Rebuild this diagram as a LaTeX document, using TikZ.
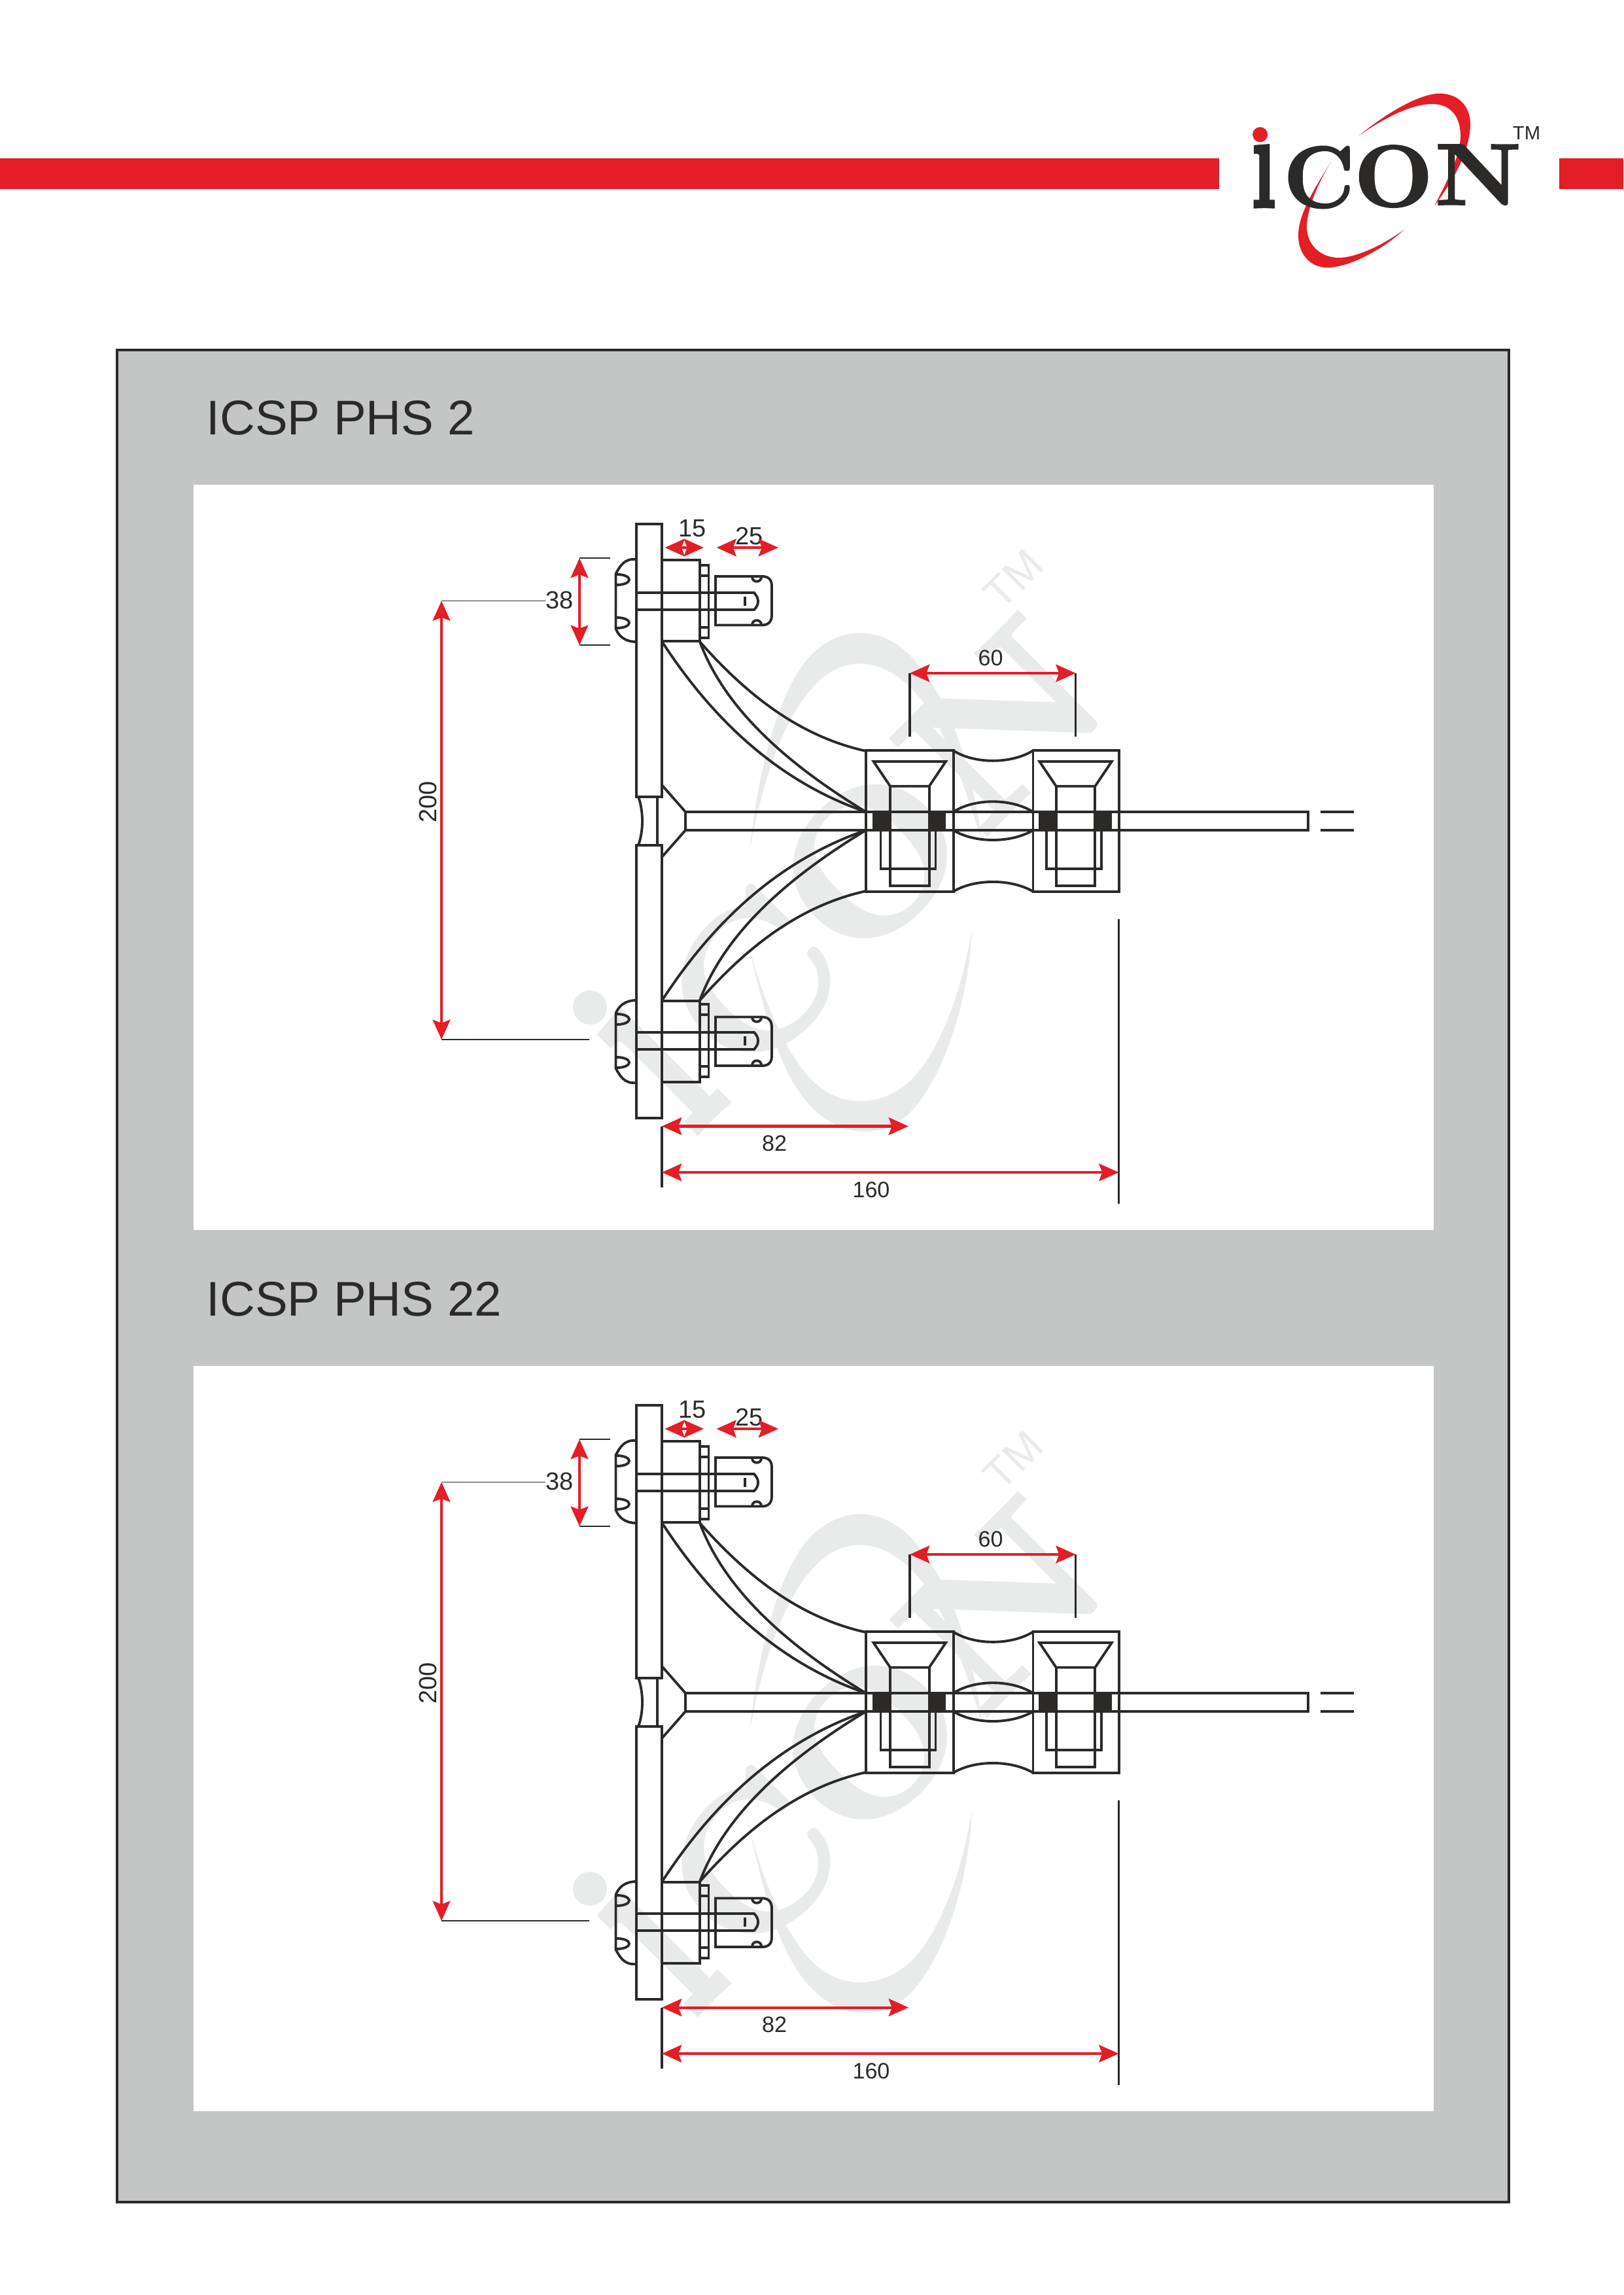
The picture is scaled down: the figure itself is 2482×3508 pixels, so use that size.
\documentclass[tikz,border=0pt]{standalone}
\usepackage{fontspec}
\usetikzlibrary{arrows.meta}
\setsansfont{Liberation Sans}
\newfontface\logoface{lmroman10-bold}[Extension=.otf,FakeBold=1.6]
\definecolor{icred}{HTML}{E31E26}
\definecolor{icdark}{HTML}{2B2A29}
\definecolor{icgray}{HTML}{C4C6C6}
\definecolor{icwater}{HTML}{E9EAEA}
\tikzset{
  part/.style={draw=icdark,line width=1.1pt,line join=miter},
  thinline/.style={draw=icdark,line width=.5pt},
  extline/.style={draw=icdark,line width=.95pt},
  dimarrow/.style={draw=icred,line width=1.15pt,{Stealth[length=8.6pt,width=7.6pt,inset=1.4pt]}-{Stealth[length=8.6pt,width=7.6pt,inset=1.4pt]}},
  dimlabel/.style={text=icdark,inner sep=0pt,font=\sffamily\fontsize{10.8pt}{12pt}\selectfont},
  dimlabelsmall/.style={text=icdark,inner sep=0pt,font=\sffamily\fontsize{9.7pt}{11pt}\selectfont},
  title/.style={text=icdark,inner sep=0pt,anchor=base west,font=\sffamily\fontsize{21.2pt}{24pt}\selectfont},
  logoletter/.style={inner sep=0pt,anchor=base,transform shape,font=\logoface\fontsize{38.1pt}{40pt}\selectfont},
}
% #1 swoosh and dot colour, #2 letter colour
\newcommand\iconlogo[2]{%
  \fill[#1] (2078,207) .. controls (2130,165) and (2175,143) .. (2201,143)
     .. controls (2232,143) and (2249,165) .. (2248,192)
     .. controls (2246,235) and (2222,275) .. (2193,315)
     .. controls (2215,272) and (2234,235) .. (2233,205)
     .. controls (2232,175) and (2215,159) .. (2190,159)
     .. controls (2160,159) and (2120,178) .. (2078,207) -- cycle;
  \fill[#1] (2035.5,246.7) .. controls (2005,295) and (1985,330) .. (1985,360)
     .. controls (1985,390) and (2005,409) .. (2029,409)
     .. controls (2060,409) and (2110,385) .. (2147,350.7)
     .. controls (2110,378) and (2070,394) .. (2047,394)
     .. controls (2020,394) and (1998,375) .. (1998,347)
     .. controls (1998,320) and (2015,280) .. (2035.5,246.7) -- cycle;
  \fill[#1] (1926.6,205.7) ellipse [x radius=11.5,y radius=11.5];
  \node[logoletter,text=#2,xscale=.95,yscale=1.58] (logoi) at (1932,317) {\i};
  \node[logoletter,text=#2,xscale=.98] (logoc) at (2016.7,317) {C};
  \node[logoletter,text=#2,xscale=1.05] (logoo) at (2130.6,315.5) {O};
  \node[logoletter,text=#2,xscale=1.1] (logon) at (2260,313) {N};
  \node[inner sep=0pt,anchor=base,transform shape,text=#2,font=\sffamily\fontsize{8.3pt}{9pt}\selectfont] (logotm) at (2334,213.3) {TM};
}
% half of the bracket, mirrored about the rod axis
\newcommand\halfbracket{%
  \draw[part] (973,1217.6) -- (973,801) -- (1012,801) -- (1012,1217.6) -- cycle;
  \draw[part] (1012,1200) -- (1048,1241) -- (1048,1255);
  \draw[part] (973,855) .. controls (955,853) and (948,865) .. (941.5,877) -- (941.5,961) .. controls (946,972) and (955,981) .. (973,981);
  \draw[part] (943,878) .. controls (955,878) and (962,882) .. (962,886) .. controls (962,890) and (955,894) .. (943,894);
  \draw[part] (943,944) .. controls (955,944) and (962,948) .. (962,952) .. controls (962,956) and (955,960) .. (943,960);
  \draw[part] (973,906) -- (1153,906) .. controls (1157,911) and (1159,914) .. (1159,919) .. controls (1159,924) and (1157,928) .. (1153,932) -- (973,932);
  \draw[part] (1012,856) rectangle (1070,980);
  \draw[part] (1070,864) rectangle (1083.5,975);
  \draw[part] (1070,880) -- (1083.5,880) (1070,959) -- (1083.5,959);
  \draw[part] (1094,881) -- (1165,881) .. controls (1175,881) and (1180,886) .. (1180,896) -- (1180,940) .. controls (1180,950) and (1175,955.5) .. (1165,955.5) -- (1094,955.5) -- cycle;
  \draw[part] (1150,882) .. controls (1150,891) and (1164,891) .. (1164,882);
  \draw[part] (1150,955) .. controls (1150,946) and (1164,946) .. (1164,955);
  \draw[part] (1139,912) -- (1139,926);
  \draw[part] (1013,982) .. controls (1090,1100) and (1190,1195) .. (1324,1241);
  \draw[part] (1070,981) .. controls (1105,1075) and (1190,1160) .. (1324,1241);
  \draw[part] (1070,981) .. controls (1140,1060) and (1220,1125) .. (1324,1148);
}
\newcommand\clampunit{%
  \draw[part] (1335.6,1164) -- (1446,1164) -- (1420.7,1201.7) -- (1361,1201.7) -- cycle;
  \draw[part] (1361,1201.7) -- (1361,1354) -- (1420.7,1354) -- (1420.7,1201.7);
  \draw[part] (1346.5,1269) -- (1346.5,1328) -- (1430.5,1328) -- (1430.5,1269);
  \fill[icdark] (1334,1239.3) rectangle (1361,1269.3);
  \fill[icdark] (1419,1239.3) rectangle (1446,1269.3);
}
\newcommand\assembly{%
  \begin{scope}[shift={(902,1540)},rotate=45,scale=2.26,shift={(-1926.6,-205.7)}]
    \iconlogo{icwater}{icwater}
  \end{scope}
  \halfbracket
  \begin{scope}[shift={(0,2510)},yscale=-1]
    \halfbracket
  \end{scope}
  \draw[part] (976,1218) .. controls (984,1240) and (984,1270) .. (976,1292);
  \draw[part] (1005,1218) -- (1005,1292);
  \draw[part] (1048,1241) -- (2000,1241) -- (2000,1269) -- (1048,1269);
  \draw[part] (2018.6,1241) -- (2069.5,1241) (2018.6,1269) -- (2069.5,1269);
  \draw[part] (1324,1147.3) rectangle (1457.6,1362.7);
  \draw[part] (1579.5,1147.3) rectangle (1710.7,1362.7);
  \draw[part] (1457.6,1147.3) .. controls (1490,1168) and (1546,1168) .. (1579.5,1147.3);
  \draw[part] (1457.6,1362.7) .. controls (1490,1343) and (1546,1343) .. (1579.5,1362.7);
  \draw[part] (1457.6,1241) .. controls (1490,1220) and (1546,1220) .. (1579.5,1241);
  \draw[part] (1457.6,1269) .. controls (1490,1289) and (1546,1289) .. (1579.5,1269);
  \clampunit
  \begin{scope}[xshift=25.37mm]
    \clampunit
  \end{scope}
  % dimensions
  \draw[thinline] (886,853) -- (933,853) (886,986) -- (933,986);
  \draw[dimarrow] (886,853) -- (886,986);
  \node[dimlabel] (dimc) at (855.5,917) {38};
  \draw[thinline] (675,918.5) -- (834,918.5);
  \draw[thinline] (675,1589) -- (901,1589);
  \draw[dimarrow] (675,918.5) -- (675,1589);
  \node[dimlabel,rotate=90] (dimd) at (654,1226) {200};
  \node[dimlabel] (dima) at (1058.5,807.5) {15};
  \draw[dimarrow] (1016.5,837) -- (1076,837);
  \node[dimlabel] (dimb) at (1145.5,819) {25};
  \draw[dimarrow] (1095.5,837) -- (1190,837);
  \draw[extline] (1391,1029) -- (1391,1125.7) (1644.6,1029) -- (1644.6,1125.7);
  \draw[dimarrow] (1391,1029) -- (1644.6,1029);
  \node[dimlabelsmall] (dime) at (1514.5,1005.7) {60};
  \draw[extline] (1012,1721.5) -- (1012,1815);
  \draw[extline] (1710.5,1405) -- (1710.5,1840);
  \draw[dimarrow] (1012,1721.5) -- (1389,1721.5);
  \node[dimlabelsmall] (dimf) at (1184,1748) {82};
  \draw[dimarrow] (1012,1792) -- (1710.5,1792);
  \node[dimlabelsmall] (dimg) at (1332,1819) {160};
}
\begin{document}
\begin{tikzpicture}[x=0.1mm,y=-0.1mm]
  \useasboundingbox (0,0) rectangle (2482,3508);
  \fill[white] (0,0) rectangle (2482,3508);
  \fill[icred] (0,242) rectangle (1864,289);
  \fill[icred] (2384,242) rectangle (2482,289);
  \iconlogo{icred}{icdark}
  \draw[fill=icgray,draw=icdark,line width=1pt] (179,535) rectangle (2307,3366);
  \fill[white] (295.5,741) rectangle (2191.5,1880);
  \fill[white] (295.5,2088) rectangle (2191.5,3227);
  \node[title] (titlea) at (315,664.5) {ICSP PHS 2};
  \node[title] (titleb) at (315,2011.5) {ICSP PHS 22};
  \begin{scope}[name prefix=up-]
    \assembly
  \end{scope}
  \begin{scope}[name prefix=low-,shift={(0,1347)}]
    \assembly
  \end{scope}
\end{tikzpicture}
\end{document}
